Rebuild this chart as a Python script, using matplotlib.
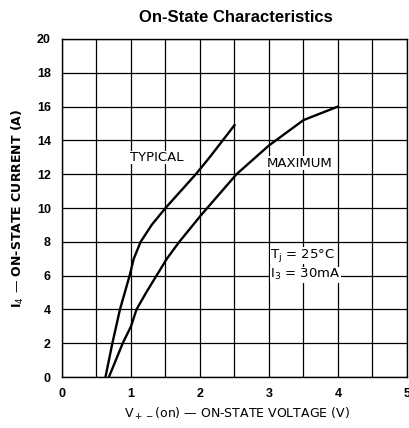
import matplotlib
matplotlib.use('Agg')
import matplotlib.pyplot as plt

# curves
typ_v = [0.63, 0.73, 0.84, 0.98, 1.04, 1.14, 1.3, 1.5, 1.72, 1.94, 2.14, 2.33, 2.5]
typ_i = [0.0, 2.0, 4.0, 6.0, 7.0, 8.0, 9.0, 10.0, 11.0, 12.0, 13.0, 14.0, 14.9]
max_v = [0.68, 0.88, 1.0, 1.08, 1.22, 1.37, 1.52, 1.7, 2.02, 2.53, 3.0, 3.1, 3.5, 4.0]
max_i = [0.0, 2.0, 3.0, 4.0, 5.0, 6.0, 7.0, 8.0, 9.6, 12.0, 13.7, 14.0, 15.2, 16.0]

xticks = [0, 0.5, 1, 1.5, 2, 2.5, 3, 3.5, 4, 4.5, 5]
xticklabels = ['0', '', '1', '', '2', '', '3', '', '4', '', '5']
yticks = [0, 2, 4, 6, 8, 10, 12, 14, 16, 18, 20]

plt.rcParams['font.family'] = ['DejaVu Sans']

fig = plt.figure(figsize=(4.09, 4.28), dpi=100)
ax = fig.add_axes([0.1516, 0.119, 0.8434, 0.790])

ax.plot(typ_v, typ_i, color='black', lw=1.7)
ax.plot(max_v, max_i, color='black', lw=1.7)

ax.set_xlim(0, 5)
ax.set_ylim(0, 20)
ax.set_xticks(xticks)
ax.set_xticklabels(xticklabels, fontweight='bold', fontsize=9, family='Liberation Sans')
ax.set_yticks(yticks)
ax.set_yticklabels([str(y) for y in yticks], fontweight='bold', fontsize=9, family='Liberation Sans')
ax.tick_params(length=0, pad=8)
ax.grid(True, color='black', lw=0.9)
for s in ax.spines.values():
    s.set_color('black')
    s.set_linewidth(1.0)

bb = dict(facecolor='white', edgecolor='none', pad=0.2)
ax.text(0.985, 13.0, 'TYPICAL', fontsize=9.5, va='center', ha='left', bbox=bb)
ax.text(2.97, 12.66, 'MAXIMUM', fontsize=9.5, va='center', ha='left', bbox=bb)
ax.text(3.02, 7.2, r'T$_{\rm j}$ = 25°C', fontsize=9.5, va='center', ha='left', bbox=bb)
ax.text(3.02, 6.05, r'I$_{\rm 3}$ = 30mA', fontsize=9.5, va='center', ha='left', bbox=bb)

ax.set_xlabel(r'V$_{\rm +-}$(on) — ON-STATE VOLTAGE (V)', fontsize=9, labelpad=3)
ax.xaxis.set_label_coords(0.506, -0.085)
ax.set_ylabel(r'I$_{\rm 4}$ — ON-STATE CURRENT (A)', fontsize=9, fontweight='bold', labelpad=8)
fig.text(0.577, 0.960, 'On-State Characteristics', ha='center', va='center',
         fontsize=12, fontweight='bold', family=['Liberation Sans Narrow', 'Liberation Sans'])

fig.savefig('out.png', dpi=100)
